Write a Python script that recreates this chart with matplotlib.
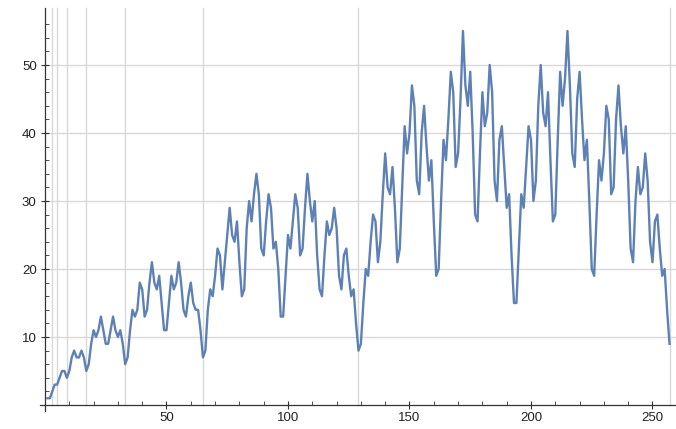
import matplotlib
matplotlib.use("Agg")
import matplotlib.pyplot as plt
from matplotlib.ticker import FixedLocator

values = [
    1, 1, 2, 3, 3, 4, 5, 5, 4, 5,
    7, 8, 7, 7, 8, 7, 5, 6, 9, 11,
    10, 11, 13, 11, 9, 9, 11, 13, 11, 10,
    11, 9, 6, 7, 11, 14, 13, 14, 18, 17,
    13, 14, 18, 21, 18, 17, 19, 15, 11, 11,
    15, 19, 17, 18, 21, 18, 14, 13, 16, 18,
    15, 14, 14, 11, 7, 8, 14, 17, 16, 19,
    23, 22, 17, 21, 25, 29, 25, 24, 27, 21,
    16, 17, 26, 30, 27, 31, 34, 31, 23, 22,
    27, 31, 29, 23, 24, 20, 13, 13, 19, 25,
    23, 27, 31, 29, 22, 23, 29, 34, 30, 27,
    30, 22, 17, 16, 22, 27, 25, 26, 29, 26,
    19, 17, 22, 23, 19, 16, 17, 12, 8, 9,
    15, 20, 19, 24, 28, 27, 21, 24, 31, 37,
    32, 31, 35, 29, 21, 23, 32, 41, 37, 40,
    47, 44, 33, 31, 40, 44, 38, 33, 36, 27,
    19, 20, 30, 39, 36, 42, 49, 46, 35, 37,
    45, 55, 47, 44, 49, 40, 28, 27, 37, 46,
    41, 43, 50, 46, 33, 30, 39, 41, 35, 29,
    31, 22, 15, 15, 23, 31, 29, 35, 41, 39,
    30, 33, 44, 50, 43, 41, 46, 36, 27, 28,
    39, 49, 44, 48, 55, 47, 37, 35, 45, 49,
    42, 36, 39, 30, 20, 19, 28, 36, 33, 37,
    44, 42, 31, 32, 42, 47, 41, 37, 41, 33,
    23, 21, 30, 35, 31, 32, 37, 33, 24, 21,
    27, 28, 23, 19, 20, 14, 9,
]
x_values = list(range(1, len(values) + 1))

grid_x = [3, 5, 9, 17, 33, 65, 129, 257]
grid_y = [10, 20, 30, 40, 50]
x_ticks = [50, 100, 150, 200, 250]
x_minor = [10, 20, 30, 40, 60, 70, 80, 90, 110, 120, 130, 140, 160, 170, 180, 190, 210, 220, 230, 240]
y_ticks = [10, 20, 30, 40, 50]
y_minor = [2, 4, 6, 8, 12, 14, 16, 18, 22, 24, 26, 28, 32, 34, 36, 38, 42, 44, 46, 48, 52, 54, 56]

W, H = 676, 429
x0pix, xscale = 45.0, 2.43
y0pix, yscale = 405.0, 6.8

fig = plt.figure(figsize=(W / 100, H / 100), dpi=100)
ax = fig.add_axes([0, 0, 1, 1])
ax.set_xlim(-x0pix / xscale, (W - x0pix) / xscale)
ax.set_ylim((y0pix - H) / yscale, y0pix / yscale)

top_v = (y0pix - 8) / yscale
right_n = (W - x0pix) / xscale

grid_color = "#d9d9d9"
for gx in grid_x:
    ax.plot([gx, gx], [0, top_v], color=grid_color, lw=1.0, zorder=1)
for gy in grid_y:
    ax.plot([0, right_n], [gy, gy], color=grid_color, lw=1.0, zorder=1)

ax.plot(x_values, values, color="#5e81b5", lw=1.7, zorder=3, solid_joinstyle="round")

for s in ["top", "right"]:
    ax.spines[s].set_visible(False)
ax.spines["left"].set_position(("data", 0))
ax.spines["bottom"].set_position(("data", 0))
ax.spines["left"].set_bounds((y0pix - 411) / yscale, top_v)
ax.spines["bottom"].set_bounds((40 - x0pix) / xscale, right_n)
for s in ["left", "bottom"]:
    ax.spines[s].set_color("#333333")
    ax.spines[s].set_linewidth(0.9)

ax.xaxis.set_major_locator(FixedLocator(x_ticks))
ax.xaxis.set_minor_locator(FixedLocator(x_minor))
ax.yaxis.set_major_locator(FixedLocator(y_ticks))
ax.yaxis.set_minor_locator(FixedLocator(y_minor))
ax.tick_params(axis="both", which="major", direction="inout", length=6, width=0.8,
               color="#333333", labelsize=9.5, labelcolor="#222222")
ax.tick_params(axis="both", which="minor", direction="in", length=3, width=0.6, color="#333333")
ax.tick_params(axis="x", pad=2)
ax.tick_params(axis="y", pad=3)
for lab in ax.get_xticklabels() + ax.get_yticklabels():
    lab.set_fontfamily("Liberation Sans")

fig.savefig("out.png", dpi=100)
